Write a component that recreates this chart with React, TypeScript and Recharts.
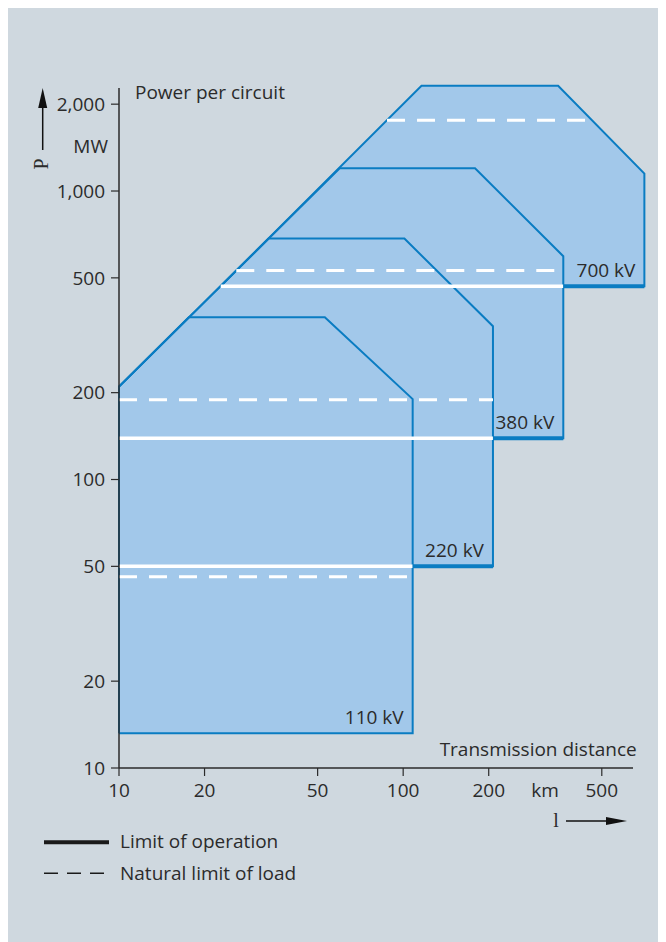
import React from 'react';
import {
  ComposedChart,
  Area,
  Line,
  XAxis,
  YAxis,
  ReferenceLine,
  ReferenceDot,
} from 'recharts';

// voltage levels, back to front order is reversed when drawing
const levels = ['110 kV', '220 kV', '380 kV', '700 kV'];

// lower bound of each region (limit of operation), MW
const operationLimit = [13.2, 50, 139, 468];
// natural limit of load, MW
const naturalLoad = [46, 189, 530, 1760];

// upper boundary of each region: distance in km / power in MW
const distance110 = [10, 17.6, 53, 108];
const power110 = [210, 365, 365, 190];
const distance220 = [10, 33.6, 101, 207];
const power220 = [210, 684, 684, 340];
const distance380 = [10, 59.8, 179, 366];
const power380 = [210, 1199, 1199, 594];
const distance700 = [22.8, 116, 351, 706];
const power700 = [468, 2316, 2316, 1149];

const upperDistance = [distance110, distance220, distance380, distance700];
const upperPower = [power110, power220, power380, power700];

const distanceTicks = [10, 20, 50, 100, 200, 500];
const powerTicks = [10, 20, 50, 100, 200, 500, 1000, 2000];

const ink = '#2b2b2b';
const edge = '#0a7cc2';
const area = '#a2c8ea';
const panel = '#cfd8df';
const font = '"Open Sans", "Noto Sans", sans-serif';
const serif = '"Liberation Serif", "DejaVu Serif", serif';
const fs = 19;

const lastOf = (a: number[]) => a[a.length - 1];

// width of a region at a given power, following the upper boundary in log-log space
function spanAt(i: number, p: number): [number, number] {
  const d = upperDistance[i];
  const w = upperPower[i];
  const lg = Math.log10;
  let left = d[0];
  let right = lastOf(d);
  for (let k = 0; k < d.length - 1; k++) {
    if (w[k + 1] > w[k] && p > w[k] && p <= w[k + 1]) {
      const t = (lg(p) - lg(w[k])) / (lg(w[k + 1]) - lg(w[k]));
      left = Math.pow(10, lg(d[k]) + t * (lg(d[k + 1]) - lg(d[k])));
    }
    if (w[k + 1] < w[k] && p < w[k] && p >= w[k + 1]) {
      const t = (lg(w[k]) - lg(p)) / (lg(w[k]) - lg(w[k + 1]));
      right = Math.pow(10, lg(d[k]) + t * (lg(d[k + 1]) - lg(d[k])));
    }
  }
  return [left, right];
}

const fillData = (i: number) =>
  upperDistance[i].map((l, k) => ({ l, range: [operationLimit[i], upperPower[i][k]] }));

const outlineData = (i: number) => {
  const d = upperDistance[i];
  const base = operationLimit[i];
  const top = d.map((l, k) => ({ l, p: upperPower[i][k] }));
  return [{ l: d[0], p: base }, ...top, { l: lastOf(d), p: base }, { l: d[0], p: base }];
};

const LevelTag = (props: any) => {
  const { viewBox, text } = props;
  return (
    <text x={viewBox.x - 9} y={viewBox.y - 9} textAnchor="end" fill={ink} fontSize={fs} fontFamily={font}>
      {text}
    </text>
  );
};

const order = [3, 2, 1, 0];

export default function App() {
  return (
    <div style={{ position: 'relative', width: 658, height: 934, background: panel, fontFamily: font }}>
      <ComposedChart width={658} height={934} margin={{ top: 74.9, right: 19.2, bottom: 144, left: 51 }}>
        <XAxis
          dataKey="l"
          type="number"
          scale="log"
          domain={[10, 720]}
          ticks={distanceTicks}
          interval={0}
          height={30}
          axisLine={false}
          tickSize={8}
          tickMargin={7.5}
          tickLine={{ stroke: ink, strokeWidth: 1.2 }}
          tick={{ fill: ink, fontSize: fs }}
        />
        <YAxis
          type="number"
          scale="log"
          domain={[10, 2370]}
          ticks={powerTicks}
          interval={0}
          width={60}
          axisLine={false}
          tickSize={8}
          tickMargin={6}
          tickLine={{ stroke: ink, strokeWidth: 1.2 }}
          tick={{ fill: ink, fontSize: fs }}
          tickFormatter={(v: number) => v.toLocaleString('en-US')}
        />

        {order.map((i) => (
          <Area
            key={`fill-${i}`}
            data={fillData(i)}
            dataKey="range"
            type="linear"
            fill={area}
            fillOpacity={1}
            stroke="none"
            isAnimationActive={false}
          />
        ))}
        {order.map((i) => (
          <Line
            key={`edge-${i}`}
            data={outlineData(i)}
            dataKey="p"
            type="linear"
            stroke={edge}
            strokeWidth={2}
            dot={false}
            activeDot={false}
            isAnimationActive={false}
          />
        ))}

        {/* limit of operation: white where covered by the next lower level, blue where exposed */}
        {[1, 2, 3].map((i) => {
          const left = spanAt(i, operationLimit[i])[0];
          const split = lastOf(upperDistance[i - 1]);
          return (
            <Line
              key={`op-in-${i}`}
              data={[{ l: left, p: operationLimit[i] }, { l: split, p: operationLimit[i] }]}
              dataKey="p"
              type="linear"
              stroke="#ffffff"
              strokeWidth={3.5}
              dot={false}
              activeDot={false}
              isAnimationActive={false}
            />
          );
        })}
        {[1, 2, 3].map((i) => (
          <Line
            key={`op-out-${i}`}
            data={[
              { l: lastOf(upperDistance[i - 1]), p: operationLimit[i] },
              { l: lastOf(upperDistance[i]), p: operationLimit[i] },
            ]}
            dataKey="p"
            type="linear"
            stroke={edge}
            strokeWidth={4}
            dot={false}
            activeDot={false}
            isAnimationActive={false}
          />
        ))}
        {[0, 1, 2, 3].map((i) => {
          const [a, b] = spanAt(i, naturalLoad[i]);
          return (
            <Line
              key={`nat-${i}`}
              data={[{ l: a, p: naturalLoad[i] }, { l: b, p: naturalLoad[i] }]}
              dataKey="p"
              type="linear"
              stroke="#ffffff"
              strokeWidth={3}
              strokeDasharray="18 12"
              dot={false}
              activeDot={false}
              isAnimationActive={false}
            />
          );
        })}

        {/* axis lines */}
        <ReferenceLine segment={[{ x: 10, y: 10 }, { x: 10, y: 2275 }]} stroke={ink} strokeWidth={1.5} />
        <ReferenceLine segment={[{ x: 10, y: 10 }, { x: 644, y: 10 }]} stroke={ink} strokeWidth={1.5} />

        {levels.map((name, i) => (
          <ReferenceDot
            key={name}
            x={lastOf(upperDistance[i])}
            y={operationLimit[i]}
            r={0}
            fill="none"
            stroke="none"
            label={<LevelTag text={name} />}
          />
        ))}
      </ComposedChart>

      <svg
        width={658}
        height={934}
        style={{ position: 'absolute', left: 0, top: 0, pointerEvents: 'none' }}
        fontFamily={font}
        fill={ink}
      >
        <text x={127} y={91.3} fontSize={fs}>Power per circuit</text>
        <text x={100} y={144.7} fontSize={fs} textAnchor="end">MW</text>
        <text transform="translate(40, 156) rotate(-90)" textAnchor="middle" fontSize={20} fontFamily={serif}>P</text>
        <line x1={34.7} y1={142} x2={34.7} y2={96} stroke="#111" strokeWidth={1.5} />
        <polygon points="34.7,80 30.2,100 39.2,100" fill="#111" />

        <text x={628.7} y={747.7} fontSize={fs} textAnchor="end">Transmission distance</text>
        <text x={537} y={789} fontSize={fs} textAnchor="middle">km</text>
        <text x={548} y={818.7} fontSize={20} textAnchor="middle" fontFamily={serif}>l</text>
        <line x1={558} y1={813} x2={602} y2={813} stroke="#111" strokeWidth={1.5} />
        <polygon points="619,813 598,809 598,817" fill="#111" />

        <line x1={36} y1={834.3} x2={101} y2={834.3} stroke="#1a1a1a" strokeWidth={4} />
        <text x={112} y={840.3} fontSize={fs}>Limit of operation</text>
        <line x1={36} y1={865.3} x2={96} y2={865.3} stroke="#1a1a1a" strokeWidth={1.5} strokeDasharray="14 9" />
        <text x={112} y={872} fontSize={fs}>Natural limit of load</text>
      </svg>
    </div>
  );
}
